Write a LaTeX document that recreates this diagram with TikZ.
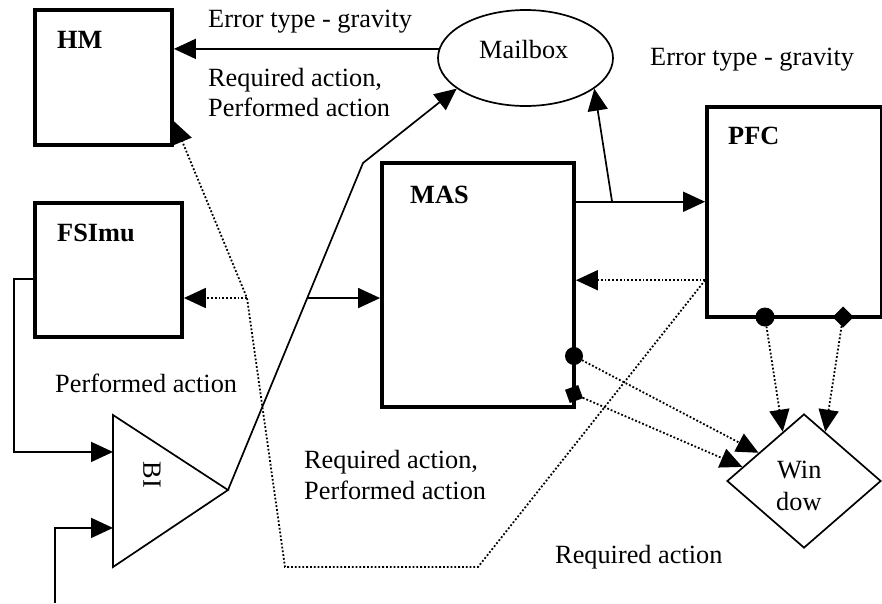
\documentclass[tikz,border=0pt]{standalone}
\usepackage{fontspec}
\setmainfont{Liberation Serif}
\usetikzlibrary{arrows.meta,shapes.geometric,calc}
\begin{document}
\begin{tikzpicture}[x=1pt,y=-1pt,
  box/.style={draw,line width=3.8pt,rectangle,inner sep=0pt},
  txt/.style={font=\fontsize{26.3}{30}\selectfont,inner sep=0pt,anchor=base west},
  btxt/.style={font=\fontsize{26.3}{30}\selectfont\bfseries,inner sep=0pt,anchor=base west},
  ln/.style={line width=1.7pt},
  arr/.style={ln,-{Triangle[length=22pt,width=20pt]}},
  dotl/.style={line width=1.8pt,dash pattern=on 1.8pt off 2pt},
  darr/.style={dotl,-{Triangle[length=22pt,width=20pt]}},
  dotmark/.style={fill=black,inner sep=0pt,outer sep=0pt}
]
\useasboundingbox (0,0) rectangle (882,603);

% boxes
\node[box,minimum width=137pt,minimum height=135pt] (hm) at (103.5,77.5) {};
\node[box,minimum width=147pt,minimum height=134pt] (fsimu) at (108.5,270) {};
\node[box,minimum width=192pt,minimum height=244pt] (mas) at (478,285) {};
\node[box,minimum width=175pt,minimum height=210pt] (pfc) at (794.5,212) {};
\node[draw,ln,ellipse,minimum width=175pt,minimum height=96pt,inner sep=0pt] (mailbox) at (525.5,58) {};
\node[draw,ln,diamond,minimum width=154pt,minimum height=134pt,inner sep=0pt,aspect=1.15] (win) at (804,481) {};

% BI triangle
\coordinate (bitop) at (113,415);
\coordinate (bibot) at (113,567);
\coordinate (bitip) at (228,490);
\draw[ln,line join=miter] (bitop) -- (bitip) -- (bibot) -- cycle;
\node[font=\fontsize{26.3}{30}\selectfont,rotate=-90,inner sep=0pt] (bilbl) at (152,475) {BI};

% labels in boxes
\node[btxt] (hmlbl) at (57,48) {HM};
\node[btxt] (fslbl) at (57,241) {FSImu};
\node[btxt] (maslbl) at (410,203) {MAS};
\node[btxt] (pfclbl) at (728,144) {PFC};
\node[txt] (mblbl) at (479,58) {Mailbox};
\node[txt] (winlbla) at (777,478) {Win};
\node[txt] (winlblb) at (776,510) {dow};

% free text labels
\node[txt] (t1) at (208,27) {Error type - gravity};
\node[txt] (t2a) at (208,86) {Required action,};
\node[txt] (t2b) at (208,116) {Performed action};
\node[txt] (t3) at (650,65) {Error type - gravity};
\node[txt] (t4) at (55,392) {Performed action};
\node[txt] (t5a) at (304,468) {Required action,};
\node[txt] (t5b) at (304,499) {Performed action};
\node[txt] (t6) at (555,563) {Required action};

% Mailbox -> HM
\draw[arr] (mailbox.174) -- (mailbox.174 -| hm.east);

% BI output -> Mailbox, with branch to MAS
\coordinate (kink) at (363,163);
\draw[arr,line join=miter] (bitip) -- (kink) -- (mailbox.204);
\coordinate (j2) at ($(bitip)!0.587!(kink)$);
\draw[arr] (j2) -- (j2 -| mas.west);

% MAS -> PFC with branch to Mailbox
\coordinate (masout) at ($(mas.north east)!0.164!(mas.south east)$);
\draw[arr] (masout) -- (masout -| pfc.west);
\coordinate (j1) at ($(masout)!0.28!(masout -| pfc.west)$);
\draw[arr] (j1) -- (mailbox.336);

% FSImu -> BI, and external input -> BI
\coordinate (biin1) at ($(bitop)!0.243!(bibot)$);
\coordinate (biin2) at ($(bitop)!0.743!(bibot)$);
\coordinate (fsout) at ($(fsimu.north west)!0.567!(fsimu.south west)$);
\draw[arr] (fsout) -- ++(-19,0) |- (biin1);
\coordinate (src) at (55,603);
\draw[arr] (src) |- (biin2);

% dotted: PFC -> MAS, PFC -> HM / FSImu
\coordinate (pfcw) at ($(pfc.north west)!0.819!(pfc.south west)$);
\draw[darr] (pfcw) -- (pfcw -| mas.east);
\coordinate (d1) at (478,567);
\coordinate (d2) at (285,567);
\coordinate (d3) at (247,298);
\coordinate (hmin) at ($(hm.north east)!0.815!(hm.south east)$);
\draw[darr] (pfcw) -- (d1) -- (d2) -- (d3) -- (hmin);
\draw[darr] (d3) -- (d3 -| fsimu.east);

% markers
\node[dotmark,circle,minimum size=18pt] (mc) at (574,356) {};
\node[dotmark,rectangle,minimum size=14pt,rotate=20] (md) at (574,394) {};
\node[dotmark,circle,minimum size=19pt] (pc) at (765,317) {};
\node[dotmark,diamond,minimum size=21pt] (pd) at (843,317) {};

% markers -> Window
\draw[darr] (mc) -- ($(win.west)!0.416!(win.north)$);
\draw[darr] (md) -- ($(win.west)!0.208!(win.north)$);
\draw[darr] (pc) -- ($(win.west)!0.727!(win.north)$);
\draw[darr] (pd) -- ($(win.north)!0.273!(win.east)$);
\end{tikzpicture}
\end{document}
